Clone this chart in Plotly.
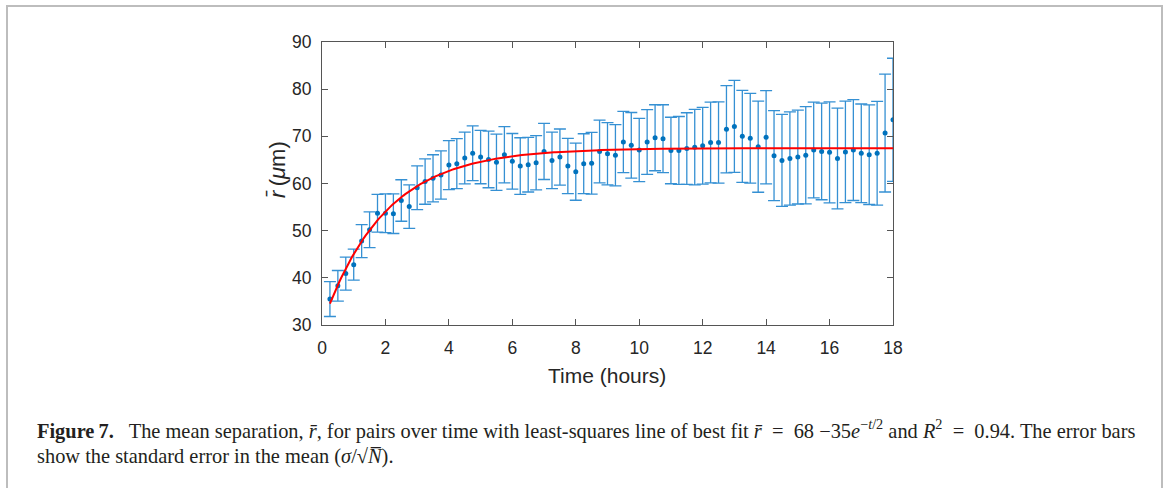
import numpy as np
import plotly.graph_objects as go

W, H = 1165, 488

# ---- data ----
time_h = [0.25 * (i + 1) for i in range(72)]
r_mean = [35.5, 38.3, 40.9, 42.8, 47.8, 50.2, 53.7, 53.7, 53.6, 56.4,
          55.1, 59.1, 60.4, 61.1, 61.8, 63.9, 64.2, 65.4, 66.4, 65.6,
          65.1, 64.5, 66.1, 64.7, 63.7, 64.0, 64.4, 66.8, 64.9, 65.6,
          63.7, 62.5, 64.2, 64.3, 66.8, 66.3, 66.0, 68.8, 68.1, 67.1,
          68.8, 69.7, 69.5, 67.0, 67.0, 67.4, 67.7, 68.0, 68.7, 68.7,
          71.5, 72.1, 70.0, 69.6, 67.8, 69.8, 65.9, 64.9, 65.3, 65.6,
          66.0, 67.1, 66.8, 66.6, 65.3, 66.7, 67.1, 66.4, 66.1, 66.4,
          70.7, 73.5]
r_err = [3.7, 3.25, 3.5, 3.3, 3.5, 3.8, 4.0, 4.1, 4.2, 4.4,
         4.6, 4.65, 4.8, 5.0, 5.1, 5.2, 5.3, 5.5, 5.8, 5.65,
         6.0, 5.95, 5.95, 5.9, 6.0, 5.8, 5.75, 5.95, 6.0, 5.95,
         5.85, 6.05, 6.35, 6.55, 6.65, 6.6, 6.5, 6.5, 6.95, 6.7,
         6.85, 7.0, 7.2, 7.05, 7.2, 7.6, 8.0, 8.15, 8.55, 8.6,
         9.25, 9.75, 9.75, 9.5, 9.65, 9.9, 9.55, 9.75, 9.9, 9.95,
         10.3, 10.15, 10.25, 10.7, 10.7, 10.75, 10.7, 10.45, 10.55, 11.0,
         12.5, 13.05]

# least-squares fit parameters (curve as drawn)
FIT_PLATEAU = 67.5
FIT_AMP = 37.5
FIT_TAU = 1.95

x_ticks = [0, 2, 4, 6, 8, 10, 12, 14, 16, 18]
y_ticks = [30, 40, 50, 60, 70, 80, 90]

t_fit = np.linspace(min(time_h), max(time_h), 300)
r_fit = FIT_PLATEAU - FIT_AMP * np.exp(-t_fit / FIT_TAU)

# plot area in pixels
PX_L, PX_R, PX_T, PX_B = 322, 893, 42, 325

def px(xp):
    return xp / W

def py(yp):
    return 1 - yp / H

fig = go.Figure()
fig.add_trace(go.Scatter(
    x=time_h, y=r_mean, mode="markers",
    marker=dict(color="#0072BD", size=5),
    error_y=dict(type="data", array=r_err, visible=True,
                 color="#3590d3", thickness=1.3, width=6),
    showlegend=False, hoverinfo="skip"))
fig.add_trace(go.Scatter(
    x=t_fit, y=r_fit, mode="lines",
    line=dict(color="#FF0000", width=2),
    showlegend=False, hoverinfo="skip"))

axis_common = dict(
    showgrid=False, zeroline=False, showline=True, linecolor="#555555",
    linewidth=1, mirror="ticks", ticks="inside", ticklen=6,
    tickcolor="#555555", tickwidth=1, automargin=False,
    tickfont=dict(family="Liberation Sans, Arial, sans-serif", size=17.5,
                  color="#262626"),
)

fig.update_layout(
    width=W, height=H,
    margin=dict(l=0, r=0, t=0, b=0, autoexpand=False),
    paper_bgcolor="white", plot_bgcolor="white",
    xaxis=dict(axis_common, range=[0, 18], tickvals=x_ticks,
               domain=[px(PX_L), px(PX_R)], ticklabelstandoff=7),
    yaxis=dict(axis_common, range=[30, 90], tickvals=y_ticks,
               domain=[py(PX_B), py(PX_T)], ticklabelstandoff=6),
)

sans = "Liberation Sans, Arial, sans-serif"
serif = "Liberation Serif, Times New Roman, serif"

fig.add_annotation(x=px(607), y=py(375), xref="paper", yref="paper",
                   xanchor="center", yanchor="middle",
                   text="Time (hours)", showarrow=False,
                   font=dict(family=sans, size=21, color="#262626"))
fig.add_annotation(x=px(277), y=py(170), xref="paper", yref="paper",
                   xanchor="center", yanchor="middle",
                   text="<i>r\u0304</i>\u2009(<i>\u03bc</i>m)", showarrow=False,
                   textangle=-90,
                   font=dict(family=sans, size=22, color="#262626"))

cap1 = ("<b>Figure\u20097.</b>\u2002 The mean separation, <i>r\u0304</i>, for pairs over time "
        "with least-squares line of best fit <i>r\u0304</i>\u2002=\u200268 \u221235<i>e</i>"
        "<sup>\u2212<i>t</i>/2</sup> and <i>R</i><sup>2</sup>\u2002=\u20020.94. The error bars")
cap2 = "show the standard error in the mean (<i>\u03c3</i>/\u221a<i>N\u0305</i>)."
fig.add_annotation(x=px(35), y=py(429), xref="paper", yref="paper",
                   text=cap1, showarrow=False, xanchor="left", yanchor="middle",
                   font=dict(family=serif, size=20.4, color="#231f20"))
fig.add_annotation(x=px(35), y=py(456), xref="paper", yref="paper",
                   text=cap2, showarrow=False, xanchor="left", yanchor="middle",
                   font=dict(family=serif, size=20.4, color="#231f20"))

# light frame around the figure
fig.add_shape(type="rect", xref="paper", yref="paper",
              x0=px(7), x1=px(1162), y0=py(500), y1=py(6),
              line=dict(color="#bdbdbd", width=2))

fig.write_html("out.html")
